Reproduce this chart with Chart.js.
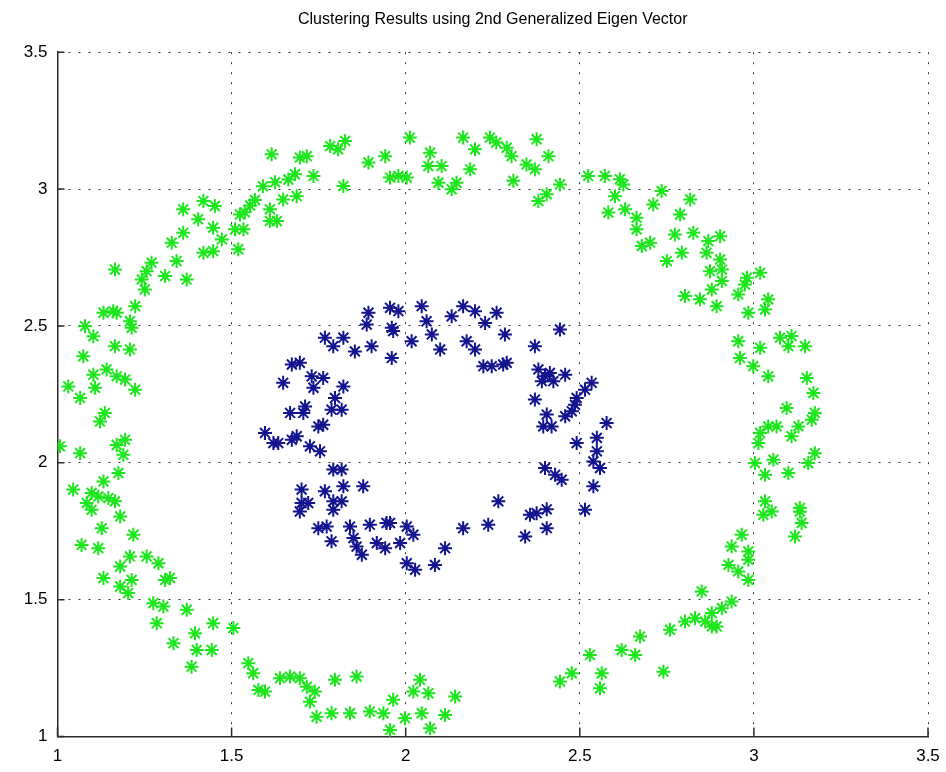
<!DOCTYPE html>
<html>
<head>
<meta charset="utf-8">
<script src="https://cdn.jsdelivr.net/npm/chart.js@4.4.0/dist/chart.umd.min.js"></script>
<style>
  html, body { margin: 0; padding: 0; background: #fff; }
  #wrap { width: 946px; height: 772px; }
</style>
</head>
<body>
<div id="wrap"><canvas id="chart" width="946" height="772"></canvas></div>
<script>
// outer ring (green) and inner ring (blue)
const greenX = [1.615,1.59,1.625,1.567,1.553,1.538,1.524,1.51,1.534,1.61,1.61,1.519,1.419,1.452,1.361,1.404,1.447,1.472,1.361,1.328,1.419,1.447,1.342,1.27,1.256,1.165,1.242,1.309,1.371,
  1.696,1.716,1.663,1.682,1.735,1.648,1.687,1.63,1.783,1.806,1.826,1.821,1.893,1.941,1.955,1.979,2.003,2.012,2.07,2.065,2.103,2.094,2.146,2.132,2.165,2.199,2.185,2.242,
  2.26,2.29,2.304,2.376,2.41,2.347,2.371,2.309,2.443,2.405,2.381,2.524,2.572,2.615,2.625,2.601,2.582,2.63,2.735,2.711,2.817,2.788,2.663,2.663,2.678,2.702,2.773,2.826,2.869,2.793,2.864,2.75,2.874,
  2.903,2.903,2.908,3.018,2.98,
  1.251,1.223,1.132,1.16,1.17,1.208,1.213,1.079,1.103,1.165,1.208,1.074,1.103,1.141,1.17,1.194,1.223,1.031,1.108,1.065,1.136,1.122,1.007,1.065,1.17,1.194,1.189,1.175,1.045,1.132,1.098,1.117,1.146,1.165,1.084,
  1.098,1.18,1.127,1.218,1.069,1.117,1.208,1.18,1.256,1.29,1.309,1.323,1.132,1.213,1.18,1.203,1.275,1.304,1.371,1.285,1.447,1.505,1.395,1.333,1.4,1.443,1.385,1.548,1.562,1.577,1.596,
  1.639,1.668,1.696,1.716,1.739,1.725,1.797,1.859,1.744,1.787,1.84,1.897,1.936,1.964,1.955,1.998,2.022,2.041,2.065,2.046,2.113,2.07,2.142,
  2.443,2.477,2.529,2.563,2.558,2.62,2.659,2.673,2.74,2.759,2.802,2.831,2.86,2.879,2.879,2.85,
  3.027,3.051,3.132,3.137,3.118,2.965,2.936,2.984,2.984,2.927,2.955,2.984,2.936,2.908,2.893,
  2.908,2.974,2.955,3.041,3.032,2.984,2.893,2.955,3.018,3.075,3.108,3.099,3.147,2.96,2.998,3.041,3.152,3.171,3.094,3.175,3.166,3.041,3.065,3.018,3.128,3.108,3.013,3.175,3.156,3.003,3.056,3.032,3.099,3.032,3.132,
  2.802,2.845,2.879];
const greenY = [3.127,3.01,3.025,2.96,2.94,2.915,2.907,2.853,2.853,2.926,2.883,2.78,2.956,2.938,2.926,2.89,2.859,2.816,2.84,2.804,2.767,2.773,2.737,2.731,2.7,2.706,2.67,2.682,2.67,
  3.115,3.12,3.035,3.054,3.048,2.962,2.974,2.883,3.157,3.145,3.176,3.011,3.097,3.12,3.042,3.048,3.042,3.188,3.133,3.084,3.084,3.023,3.023,2.999,3.188,3.145,3.072,3.188,
  3.17,3.151,3.12,3.182,3.12,3.09,3.072,3.03,3.017,2.981,2.956,3.048,3.048,3.036,3.017,2.974,2.914,2.926,2.993,2.944,2.962,2.907,2.895,2.853,2.792,2.804,2.834,2.84,2.81,2.767,2.767,2.737,2.7,
  2.828,2.743,2.706,2.694,2.676,
  2.633,2.572,2.548,2.554,2.548,2.517,2.493,2.499,2.462,2.426,2.414,2.389,2.322,2.341,2.316,2.304,2.267,2.279,2.274,2.237,2.182,2.151,2.06,2.035,2.065,2.084,2.029,1.963,1.902,1.932,1.89,1.877,1.871,1.859,1.853,
  1.828,1.804,1.761,1.737,1.7,1.688,1.658,1.621,1.658,1.633,1.572,1.579,1.579,1.572,1.548,1.524,1.487,1.475,1.463,1.414,1.414,1.396,1.377,1.341,1.316,1.316,1.255,1.268,1.231,1.17,1.164,
  1.213,1.219,1.213,1.182,1.164,1.127,1.207,1.219,1.072,1.085,1.085,1.091,1.085,1.134,1.024,1.067,1.164,1.207,1.158,1.085,1.079,1.03,1.146,
  1.201,1.231,1.298,1.231,1.176,1.316,1.298,1.365,1.237,1.39,1.42,1.432,1.42,1.402,1.451,1.53,
  1.81,1.822,1.822,1.78,1.731,1.737,1.694,1.676,1.646,1.627,1.603,1.572,1.493,1.469,1.402,
  2.664,2.651,2.615,2.597,2.56,2.548,2.572,2.444,2.42,2.457,2.463,2.426,2.426,2.383,2.353,2.316,2.31,2.255,2.2,2.182,2.157,2.133,2.133,2.109,2.133,2.097,2.072,2.035,1.999,1.999,2.011,1.956,1.963,1.859,1.835,
  2.609,2.597,2.633];

const blueX = [1.893,1.888,1.955,1.979,1.96,1.964,2.046,2.06,2.075,2.017,2.099,2.132,2.165,2.199,2.228,2.175,2.199,2.223,2.247,
  1.768,1.792,1.821,1.854,1.902,1.96,1.673,1.696,1.648,1.73,1.763,1.735,1.821,1.797,1.787,1.816,1.668,1.711,1.706,1.763,1.749,
  1.634,1.673,1.687,1.725,1.754,1.792,1.816,1.821,1.878,1.701,1.768,1.792,1.816,1.701,1.72,1.596,1.62,
  1.696,1.792,1.749,1.773,1.787,1.84,1.85,1.859,1.874,1.897,1.945,1.955,1.917,1.941,1.984,2.003,2.022,2.003,2.027,2.084,2.113,2.165,2.237,
  2.261,2.285,2.28,2.29,2.443,2.371,2.381,2.4,2.414,2.391,2.424,2.458,2.371,2.405,2.395,2.419,2.458,2.477,2.486,2.491,2.515,2.534,2.577,
  2.491,2.549,2.549,2.539,2.558,2.4,2.429,2.448,2.539,2.266,2.515,2.357,2.376,2.405,2.405,2.343];
const blueY = [2.548,2.505,2.566,2.554,2.493,2.481,2.572,2.517,2.469,2.444,2.414,2.535,2.572,2.554,2.511,2.444,2.414,2.353,2.353,
  2.457,2.426,2.457,2.407,2.426,2.383,2.359,2.365,2.292,2.316,2.31,2.274,2.279,2.237,2.194,2.194,2.182,2.206,2.182,2.139,2.133,
  2.072,2.084,2.097,2.06,2.042,1.975,1.975,1.914,1.914,1.902,1.896,1.859,1.859,1.853,1.853,2.109,2.072,
  1.822,1.828,1.761,1.767,1.713,1.767,1.725,1.694,1.664,1.774,1.78,1.78,1.707,1.688,1.707,1.767,1.737,1.633,1.609,1.627,1.688,1.761,1.774,
  2.548,2.469,2.359,2.365,2.487,2.426,2.341,2.316,2.328,2.298,2.298,2.322,2.231,2.176,2.133,2.133,2.17,2.188,2.212,2.237,2.267,2.292,2.145,
  2.072,2.091,2.042,2.005,1.981,1.981,1.956,1.938,1.914,1.859,1.828,1.81,1.816,1.83,1.761,1.731];

const xTicksMin = 1, xTicksMax = 3.5;
const yTicksMin = 1, yTicksMax = 3.5;
const tickStep = 0.5;

function pairs(xs, ys) {
  return xs.map((x, i) => ({ x: x, y: ys[i] }));
}

// 1, 1.5, 2 ... like matlab, no trailing zero
function tickLabel(v) {
  return String(+Number(v).toFixed(2));
}

// matlab-style inward tick marks on left and bottom axes
const inwardTicks = {
  id: "inwardTicks",
  afterDraw(chart) {
    const ctx = chart.ctx;
    const xs = chart.scales.x;
    const ys = chart.scales.y;
    const area = chart.chartArea;
    ctx.save();
    ctx.strokeStyle = "#2b2b2b";
    ctx.lineWidth = 1.5;
    ctx.beginPath();
    for (const t of ys.ticks) {
      const p = ys.getPixelForValue(t.value);
      ctx.moveTo(area.left, p);
      ctx.lineTo(area.left + 7, p);
    }
    for (const t of xs.ticks) {
      const p = xs.getPixelForValue(t.value);
      ctx.moveTo(p, area.bottom);
      ctx.lineTo(p, area.bottom - 9);
    }
    ctx.stroke();
    ctx.restore();
  },
};

const font = "'Liberation Sans', Arial, Helvetica, sans-serif";

new Chart(document.getElementById("chart"), {
  type: "scatter",
  data: {
    datasets: [
      {
        label: "cluster 1",
        data: pairs(greenX, greenY),
        pointStyle: "star",
        radius: 7,
        borderWidth: 2,
        borderColor: "#1ee61e",
        backgroundColor: "#1ee61e",
      },
      {
        label: "cluster 2",
        data: pairs(blueX, blueY),
        pointStyle: "star",
        radius: 7,
        borderWidth: 2,
        borderColor: "#14148f",
        backgroundColor: "#14148f",
      },
    ],
  },
  options: {
    responsive: false,
    animation: false,
    events: [],
    layout: { padding: { left: 0, right: 18, top: 0, bottom: 0 } },
    plugins: {
      legend: { display: false },
      tooltip: { enabled: false },
      title: {
        display: true,
        fullSize: false,
        text: "Clustering Results using 2nd Generalized Eigen Vector",
        color: "#000",
        font: { family: font, size: 16, weight: "normal" },
        padding: { top: 10, bottom: 23 },
      },
    },
    scales: {
      x: {
        type: "linear",
        min: xTicksMin,
        max: xTicksMax,
        ticks: { stepSize: tickStep, color: "#000", padding: 10, font: { family: font, size: 17 }, callback: tickLabel },
        grid: { color: "#333", lineWidth: 1, drawTicks: false },
        border: { display: true, color: "#2b2b2b", width: 1.5, dash: [2, 8] },
        afterFit(scale) {
          scale.height = 35.5;
          // keep the plot edge where the picture has it
          scale.paddingRight = 14;
          scale.paddingLeft = 5;
        },
      },
      y: {
        type: "linear",
        min: yTicksMin,
        max: yTicksMax,
        ticks: { stepSize: tickStep, color: "#000", padding: 10, font: { family: font, size: 17 }, callback: tickLabel },
        grid: { color: "#333", lineWidth: 1, drawTicks: false },
        border: { display: true, color: "#2b2b2b", width: 1.5, dash: [2, 8] },
        afterFit(scale) { scale.width = 57.5; },
      },
    },
  },
  plugins: [inwardTicks],
});
</script>
</body>
</html>
